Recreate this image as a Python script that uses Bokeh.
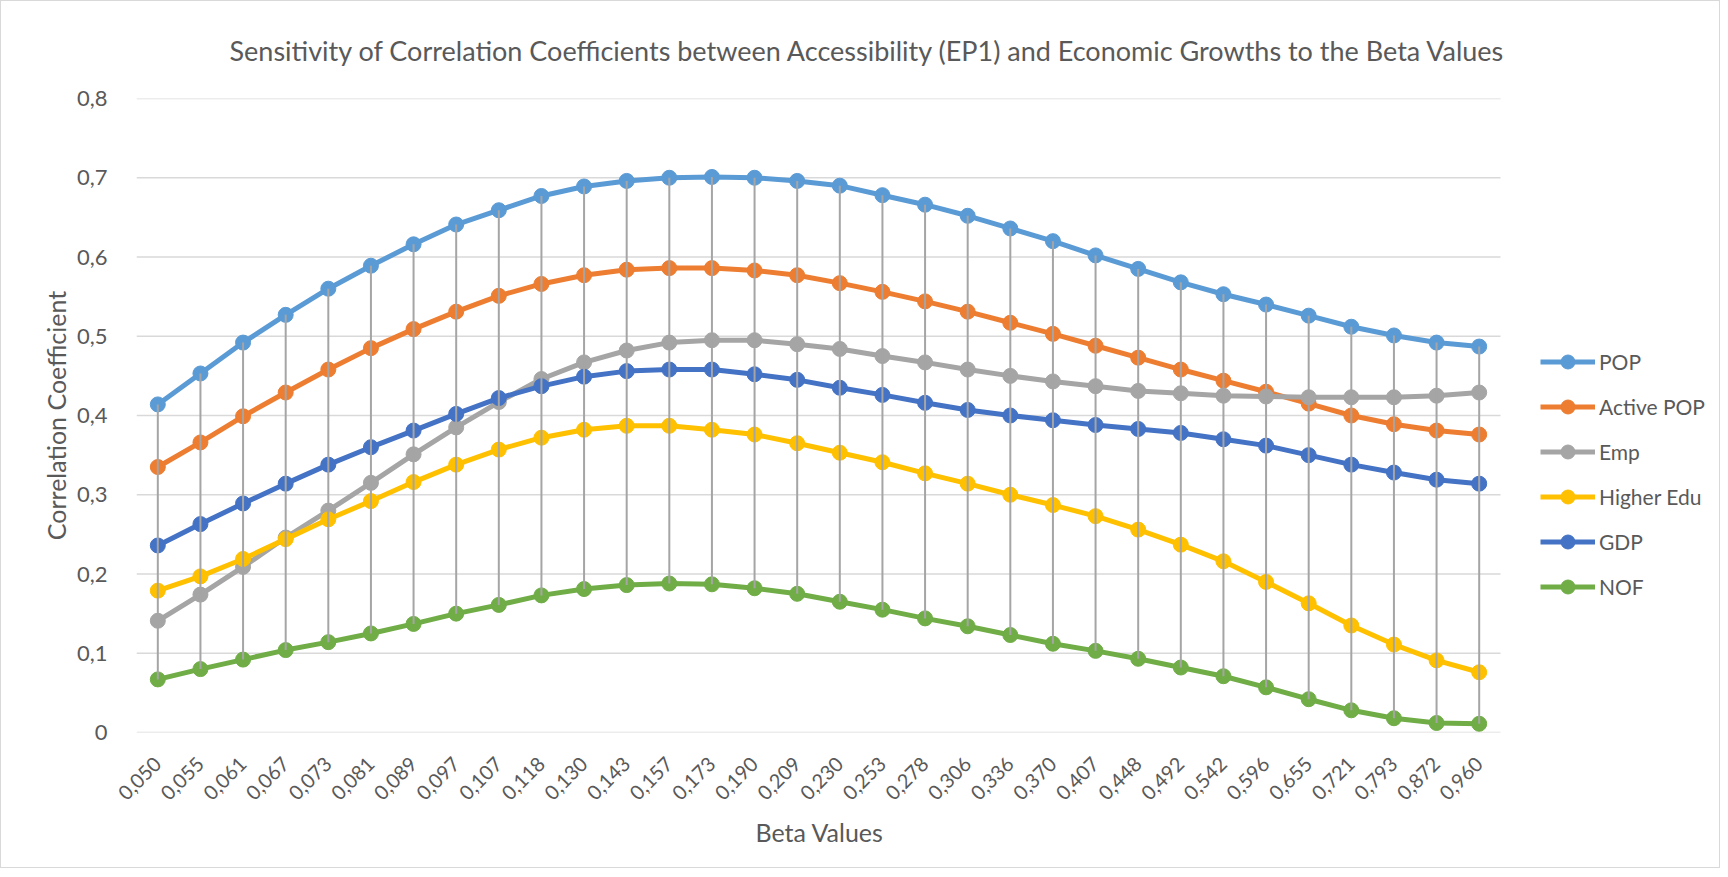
import math
from bokeh.plotting import figure
from bokeh.models import Range1d, FixedTicker, Legend, LegendItem, Title
from bokeh.embed import file_html
from bokeh.resources import INLINE

beta = ["0,050", "0,055", "0,061", "0,067", "0,073", "0,081", "0,089", "0,097",
        "0,107", "0,118", "0,130", "0,143", "0,157", "0,173", "0,190", "0,209",
        "0,230", "0,253", "0,278", "0,306", "0,336", "0,370", "0,407", "0,448",
        "0,492", "0,542", "0,596", "0,655", "0,721", "0,793", "0,872", "0,960"]

pop = [0.414, 0.453, 0.492, 0.527, 0.560, 0.589, 0.616, 0.641, 0.659, 0.677, 0.689, 0.696,
       0.700, 0.701, 0.700, 0.696, 0.690, 0.678, 0.666, 0.652, 0.636, 0.620, 0.602, 0.585,
       0.568, 0.553, 0.540, 0.526, 0.512, 0.501, 0.492, 0.487]
active_pop = [0.335, 0.366, 0.399, 0.429, 0.458, 0.485, 0.509, 0.531, 0.551, 0.566, 0.577, 0.584,
              0.586, 0.586, 0.583, 0.577, 0.567, 0.556, 0.544, 0.531, 0.517, 0.503, 0.488, 0.473,
              0.458, 0.444, 0.430, 0.415, 0.400, 0.389, 0.381, 0.376]
emp = [0.141, 0.174, 0.209, 0.246, 0.280, 0.315, 0.351, 0.385, 0.417, 0.446, 0.467, 0.482,
       0.492, 0.495, 0.495, 0.490, 0.484, 0.475, 0.467, 0.458, 0.450, 0.443, 0.437, 0.431,
       0.428, 0.425, 0.424, 0.423, 0.423, 0.423, 0.425, 0.429]
higher_edu = [0.179, 0.197, 0.219, 0.244, 0.269, 0.292, 0.316, 0.338, 0.357, 0.372, 0.382, 0.387,
              0.387, 0.382, 0.376, 0.365, 0.353, 0.341, 0.327, 0.314, 0.300, 0.287, 0.273, 0.256,
              0.237, 0.216, 0.190, 0.163, 0.135, 0.111, 0.091, 0.076]
gdp = [0.236, 0.263, 0.289, 0.314, 0.338, 0.360, 0.381, 0.402, 0.422, 0.437, 0.449, 0.456,
       0.458, 0.458, 0.452, 0.445, 0.435, 0.426, 0.416, 0.407, 0.400, 0.394, 0.388, 0.383,
       0.378, 0.370, 0.362, 0.350, 0.338, 0.328, 0.319, 0.314]
nof = [0.067, 0.080, 0.092, 0.104, 0.114, 0.125, 0.137, 0.150, 0.161, 0.173, 0.181, 0.186,
       0.188, 0.187, 0.182, 0.175, 0.165, 0.155, 0.144, 0.134, 0.123, 0.112, 0.103, 0.093,
       0.082, 0.071, 0.057, 0.042, 0.028, 0.018, 0.012, 0.011]

series_names = ["POP", "Active POP", "Emp", "Higher Edu", "GDP", "NOF"]
series_values = [pop, active_pop, emp, higher_edu, gdp, nof]
series_colors = ["#5B9BD5", "#ED7D31", "#A5A5A5", "#FFC000", "#4472C4", "#70AD47"]

y_ticks = [0, 0.1, 0.2, 0.3, 0.4, 0.5, 0.6, 0.7, 0.8]
y_tick_labels = ["0", "0,1", "0,2", "0,3", "0,4", "0,5", "0,6", "0,7", "0,8"]

title_text = "Sensitivity of Correlation Coefficients between Accessibility (EP1) and Economic Growths to the Beta Values"
x_title = "Beta Values"
y_title = "Correlation Coefficient"
FONT = "Lato"
TXT = "#595959"

# layout (pixels)
FIG_W, FIG_H = 1720, 868
FRAME_L, PLOT_R = 135, 1499          # plot area (category slots) left / right edge
MIN_R, MIN_T, MIN_B = 2, 95, 137

n = len(beta)
x_idx = list(range(n))
x_start = -0.5
x_stop = n - 0.5
x_end = x_start + (FIG_W - MIN_R - FRAME_L) * n / (PLOT_R - FRAME_L)

p = figure(width=FIG_W, height=FIG_H,
           x_range=Range1d(x_start, x_end),
           y_range=Range1d(y_ticks[0], y_ticks[-1]),
           output_backend="svg", toolbar_location=None,
           min_border_left=FRAME_L, min_border_right=MIN_R,
           min_border_top=MIN_T, min_border_bottom=MIN_B,
           styles={"border": "1px solid #D9D9D9"})

p.title.text = title_text
p.title.text_font = FONT
p.title.text_font_size = "27px"
p.title.text_font_style = "normal"
p.title.text_color = TXT
p.title.align = "left"
p.title.offset = 93
p.title.vertical_align = "middle"
p.title.standoff = 62

p.outline_line_color = None
p.background_fill_color = "white"
p.border_fill_color = "white"
p.xgrid.grid_line_color = None
p.ygrid.grid_line_color = None

# horizontal gridlines spanning only the category area
p.segment(x0=[x_start] * len(y_ticks), y0=y_ticks, x1=[x_stop] * len(y_ticks), y1=y_ticks,
          line_color="#D9D9D9", line_width=1.5)

p.yaxis.ticker = FixedTicker(ticks=y_ticks)
p.yaxis.major_label_overrides = dict(zip(y_ticks, y_tick_labels))
p.xaxis.ticker = FixedTicker(ticks=x_idx)
p.xaxis.major_label_overrides = dict(zip(x_idx, beta))

for ax in (p.xaxis[0], p.yaxis[0]):
    ax.axis_line_color = None
    ax.major_tick_line_color = None
    ax.minor_tick_line_color = None
    ax.major_label_text_font = FONT
    ax.major_label_text_color = TXT
    ax.axis_label_text_font = FONT
    ax.axis_label_text_font_size = "25px"
    ax.axis_label_text_font_style = "normal"
    ax.axis_label_text_color = TXT

p.yaxis.major_label_text_font_size = "22px"
p.xaxis.major_label_text_font_size = "20px"
p.yaxis.axis_label = y_title
p.xaxis.major_label_orientation = math.pi / 4
p.xaxis.major_label_standoff = 22
p.yaxis.major_label_standoff = 23
p.yaxis.axis_label_standoff = 3

# x-axis title, centred under the category area (not under the legend)
xt = Title(text=x_title, align="left", offset=619, vertical_align="middle", standoff=13,
           text_font=FONT, text_font_size="25px", text_font_style="normal", text_color=TXT)
p.add_layout(xt, "below")

items = []
for name, vals, col in zip(series_names, series_values, series_colors):
    r_line = p.line(x_idx, vals, line_color=col, line_width=5)
    r_pts = p.scatter(x_idx, vals, size=15, fill_color=col, line_color=col)
    items.append(LegendItem(label=name, renderers=[r_line, r_pts]))

hi = [max(v) for v in zip(*series_values)]
lo = [min(v) for v in zip(*series_values)]
p.segment(x0=x_idx, y0=hi, x1=x_idx, y1=lo, line_color="#A5A5A5", line_width=2)

lg = Legend(items=items, location=(1404, 128))
lg.glyph_width = 55
lg.glyph_height = 35
lg.label_height = 35
lg.spacing = 10
lg.padding = 0
lg.margin = 0
lg.label_standoff = 4
lg.border_line_color = None
lg.background_fill_alpha = 0
lg.label_text_font = FONT
lg.label_text_font_size = "21px"
lg.label_text_color = TXT
p.add_layout(lg, "center")

open("out.html", "w").write(file_html(p, INLINE))
